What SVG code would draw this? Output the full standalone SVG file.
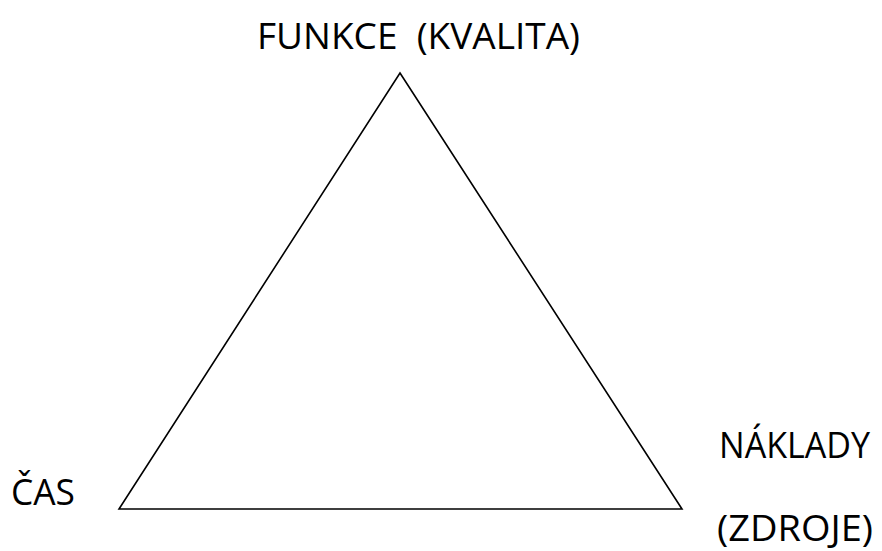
<svg xmlns="http://www.w3.org/2000/svg" width="882" height="551" viewBox="0 0 882 551">
<style>
.lbl{font-family:"Open Sans","Noto Sans","Liberation Sans",sans-serif;font-size:37px;fill:#000;white-space:pre}
.edge{fill:none;stroke:#000;stroke-width:1.6;stroke-linejoin:miter}
</style>
<rect width="882" height="551" fill="#fff"/>
<g id="connectors">
<polygon class="edge" points="400,73 682,509 119,509"/>
</g>
<g id="funkce"><text class="lbl" x="257" y="49" textLength="323" lengthAdjust="spacingAndGlyphs" xml:space="preserve">FUNKCE  (KVALITA)</text></g>
<g id="cas"><text class="lbl" x="11" y="505" textLength="64" lengthAdjust="spacingAndGlyphs">ČAS</text></g>
<g id="naklady">
<text class="lbl" x="719" y="458" textLength="151" lengthAdjust="spacingAndGlyphs">NÁKLADY</text>
<text class="lbl" x="717" y="541" textLength="156" lengthAdjust="spacingAndGlyphs">(ZDROJE)</text>
</g>
</svg>
